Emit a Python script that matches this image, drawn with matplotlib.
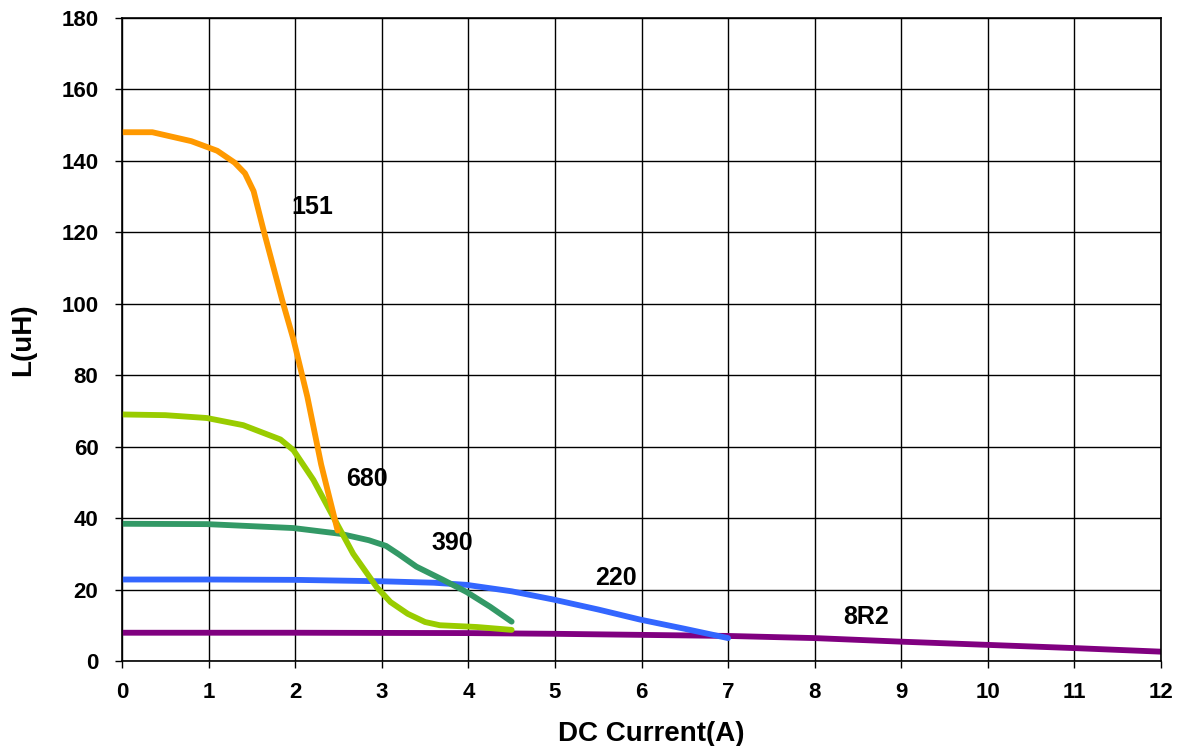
import matplotlib
matplotlib.use("Agg")
import matplotlib.pyplot as plt

# inductance vs DC current
i_151 = [0, 0.35, 0.8, 1.1, 1.3, 1.42, 1.52, 1.63, 1.85, 1.98, 2.14, 2.3, 2.49]
l_151 = [148, 148, 145.5, 142.8, 139.5, 136.5, 131.5, 121, 101, 90, 74, 55, 36.5]

i_680 = [0, 0.5, 0.98, 1.4, 1.83, 1.98, 2.21, 2.44, 2.67, 2.94, 3.1, 3.3, 3.5, 3.67, 4.1, 4.5]
l_680 = [69, 68.8, 68, 66, 62, 59, 50.7, 40.3, 30, 20.7, 16.5, 13.2, 10.9, 10, 9.5, 8.7]

i_390 = [0, 0.98, 1.98, 2.52, 2.85, 3.05, 3.2, 3.4, 3.7, 3.98, 4.25, 4.5]
l_390 = [38.4, 38.3, 37.2, 35.6, 33.8, 32.2, 29.8, 26.4, 22.8, 19.3, 15.2, 11]

i_220 = [0, 1, 2, 3, 3.6, 3.98, 4.5, 4.98, 5.5, 5.98, 6.5, 7.0]
l_220 = [22.8, 22.8, 22.7, 22.3, 21.9, 21.3, 19.5, 17.2, 14.4, 11.6, 9, 6.4]

i_8r2 = [0, 2, 4, 5, 6, 7, 8, 9, 10, 11, 12]
l_8r2 = [7.9, 7.9, 7.8, 7.6, 7.3, 7.0, 6.4, 5.4, 4.5, 3.6, 2.6]

labels = ["151", "680", "390", "220", "8R2"]
label_x = [2.2, 2.83, 3.81, 5.71, 8.59]
label_y = [127, 51, 33, 23.2, 12.3]

fnt = "Liberation Sans"
fig = plt.figure(figsize=(11.8, 7.46), dpi=100)
ax = fig.add_axes([0.1034, 0.114, 0.8805, 0.8620])

lw = 4.2
ax.plot(i_8r2, l_8r2, color="#800080", lw=lw, solid_capstyle="round", solid_joinstyle="round")
ax.plot(i_220, l_220, color="#3366FF", lw=lw, solid_capstyle="round", solid_joinstyle="round")
ax.plot(i_390, l_390, color="#339966", lw=lw, solid_capstyle="round", solid_joinstyle="round")
ax.plot(i_680, l_680, color="#99CC00", lw=lw, solid_capstyle="round", solid_joinstyle="round")
ax.plot(i_151, l_151, color="#FF9900", lw=lw, solid_capstyle="round", solid_joinstyle="round")

for t, x, y in zip(labels, label_x, label_y):
    ax.text(x, y, t, ha="center", va="center", fontsize=18,
            fontweight="bold", family=fnt)

ax.set_xlim(0, 12)
ax.set_ylim(0, 180)
ax.set_xticks(range(0, 13))
ax.set_yticks(range(0, 181, 20))
ax.grid(True, color="black", lw=1.0)
ax.set_axisbelow(True)
for s in ax.spines.values():
    s.set_linewidth(1.2)
ax.tick_params(direction="out", length=5, width=1)
ax.tick_params(axis="x", pad=10)
ax.tick_params(axis="y", pad=12)
for lab in ax.get_xticklabels() + ax.get_yticklabels():
    lab.set_fontsize(16)
    lab.set_fontweight("bold")
    lab.set_family(fnt)

ax.set_xlabel("DC Current(A)", fontsize=20, fontweight="bold", family=fnt)
ax.set_ylabel("L(uH)", fontsize=20, fontweight="bold", family=fnt)
ax.xaxis.set_label_coords(0.509, -0.094)
ax.yaxis.set_label_coords(-0.083, 0.5)

fig.savefig("out.png", dpi=100)
